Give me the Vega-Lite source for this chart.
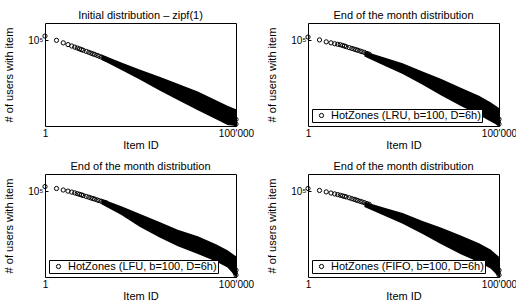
{
  "$schema": "https://vega.github.io/schema/vega-lite/v6.json",
  "background": "white",
  "padding": {"left": 3, "top": 9, "right": 0, "bottom": 0},
  "datasets": {
    "pts": [
      {"p":"p1","item":1,"users":173000},{"p":"p1","item":2,"users":97700},{"p":"p1","item":3,"users":69800},{"p":"p1","item":4,"users":55100},{"p":"p1","item":5,"users":45800},{"p":"p1","item":6,"users":39400},{"p":"p1","item":7,"users":34700},{"p":"p1","item":8,"users":31100},{"p":"p1","item":9,"users":28200},{"p":"p1","item":10,"users":25800},{"p":"p1","item":12,"users":22200},{"p":"p1","item":14,"users":19600},{"p":"p1","item":16,"users":17500},{"p":"p1","item":18,"users":15900},{"p":"p1","item":20,"users":14600},{"p":"p1","item":23,"users":13000},{"p":"p1","item":26,"users":11700},{"p":"p1","item":30,"users":10300},{"p":"p1","item":35,"users":8770},{"p":"p1","item":40,"users":7670},{"p":"p1","item":100000,"users":1.3},{"p":"p1","item":100000,"users":2.4},{"p":"p1","item":90000,"users":1.8},
      {"p":"p2","item":1,"users":152000},{"p":"p2","item":2,"users":103000},{"p":"p2","item":3,"users":79600},{"p":"p2","item":4,"users":70000},{"p":"p2","item":5,"users":61500},{"p":"p2","item":6,"users":57700},{"p":"p2","item":7,"users":54100},{"p":"p2","item":8,"users":49300},{"p":"p2","item":9,"users":45700},{"p":"p2","item":10,"users":41700},{"p":"p2","item":12,"users":36600},{"p":"p2","item":14,"users":33000},{"p":"p2","item":16,"users":30200},{"p":"p2","item":18,"users":27900},{"p":"p2","item":20,"users":25800},{"p":"p2","item":23,"users":23300},{"p":"p2","item":26,"users":21300},{"p":"p2","item":30,"users":19200},{"p":"p2","item":35,"users":16900},{"p":"p2","item":40,"users":15200},{"p":"p2","item":100000,"users":1.3},{"p":"p2","item":100000,"users":2.5},{"p":"p2","item":95000,"users":1.8},
      {"p":"p3","item":1,"users":185000},{"p":"p3","item":2,"users":143000},{"p":"p3","item":3,"users":117000},{"p":"p3","item":4,"users":100500},{"p":"p3","item":5,"users":88300},{"p":"p3","item":6,"users":79600},{"p":"p3","item":7,"users":71800},{"p":"p3","item":8,"users":65600},{"p":"p3","item":9,"users":60700},{"p":"p3","item":10,"users":56100},{"p":"p3","item":12,"users":49300},{"p":"p3","item":14,"users":44500},{"p":"p3","item":16,"users":40100},{"p":"p3","item":18,"users":37200},{"p":"p3","item":20,"users":34400},{"p":"p3","item":23,"users":31000},{"p":"p3","item":26,"users":28300},{"p":"p3","item":30,"users":25500},{"p":"p3","item":35,"users":22700},{"p":"p3","item":40,"users":21000},{"p":"p3","item":100000,"users":1.3},{"p":"p3","item":100000,"users":2.5},{"p":"p3","item":95000,"users":1.8},
      {"p":"p4","item":1,"users":143000},{"p":"p4","item":2,"users":110000},{"p":"p4","item":3,"users":90600},{"p":"p4","item":4,"users":77600},{"p":"p4","item":5,"users":69000},{"p":"p4","item":6,"users":63100},{"p":"p4","item":7,"users":57700},{"p":"p4","item":8,"users":53300},{"p":"p4","item":9,"users":49300},{"p":"p4","item":10,"users":46200},{"p":"p4","item":12,"users":41200},{"p":"p4","item":14,"users":36600},{"p":"p4","item":16,"users":33500},{"p":"p4","item":18,"users":31000},{"p":"p4","item":20,"users":28600},{"p":"p4","item":23,"users":25800},{"p":"p4","item":26,"users":23600},{"p":"p4","item":30,"users":21300},{"p":"p4","item":35,"users":19000},{"p":"p4","item":40,"users":17100},{"p":"p4","item":100000,"users":1.3},{"p":"p4","item":100000,"users":2.5},{"p":"p4","item":95000,"users":1.8}
    ],
    "band": [
      {"p":"p1","item":30,"lo":7180,"hi":14700},{"p":"p1","item":100,"lo":1830,"hi":4990},{"p":"p1","item":300,"lo":513,"hi":1977},{"p":"p1","item":1000,"lo":117,"hi":743},{"p":"p1","item":3000,"lo":32.8,"hi":292},{"p":"p1","item":10000,"lo":8.15,"hi":101},{"p":"p1","item":30000,"lo":2.44,"hi":32.1},{"p":"p1","item":60000,"lo":1.15,"hi":15.1},{"p":"p1","item":100000,"lo":1,"hi":9.5},
      {"p":"p2","item":30,"lo":11000,"hi":22500},{"p":"p2","item":100,"lo":3250,"hi":9730},{"p":"p2","item":300,"lo":1080,"hi":4540},{"p":"p2","item":1000,"lo":255,"hi":1490},{"p":"p2","item":3000,"lo":62.7,"hi":558},{"p":"p2","item":10000,"lo":14.8,"hi":170},{"p":"p2","item":30000,"lo":4.35,"hi":57.3},{"p":"p2","item":60000,"lo":1.83,"hi":24.2},{"p":"p2","item":100000,"lo":1,"hi":11},
      {"p":"p3","item":30,"lo":17400,"hi":35600},{"p":"p3","item":100,"lo":4150,"hi":13100},{"p":"p3","item":300,"lo":832,"hi":4790},{"p":"p3","item":1000,"lo":199,"hi":1580},{"p":"p3","item":3000,"lo":62.8,"hi":573},{"p":"p3","item":10000,"lo":21.9,"hi":240},{"p":"p3","item":30000,"lo":7.96,"hi":79.6},{"p":"p3","item":60000,"lo":3.57,"hi":35.7},{"p":"p3","item":100000,"lo":1,"hi":16},
      {"p":"p4","item":30,"lo":11800,"hi":24100},{"p":"p4","item":100,"lo":3650,"hi":10900},{"p":"p4","item":300,"lo":1280,"hi":5360},{"p":"p4","item":1000,"lo":317,"hi":1850},{"p":"p4","item":3000,"lo":84.5,"hi":753},{"p":"p4","item":10000,"lo":21.5,"hi":259},{"p":"p4","item":30000,"lo":7.13,"hi":94},{"p":"p4","item":60000,"lo":3.08,"hi":40.6},{"p":"p4","item":100000,"lo":1,"hi":15}
    ]
  },
  "columns": 2,
  "spacing": {"row": 48, "column": 72},
  "bounds": "flush",
  "resolve": {"scale": {"color": "independent"}, "legend": {"color": "independent"}},
  "concat": [
    {
      "width": 191, "height": 103,
      "title": "Initial distribution – zipf(1)",
      "layer": [
        {"data": {"name": "band"}, "transform": [{"filter": "datum.p === 'p1'"}],
         "mark": {"type": "area", "color": "black", "opacity": 1, "clip": true},
         "encoding": {
           "x": {"field": "item", "type": "quantitative", "scale": {"type": "log", "domain": [1, 100000]}, "axis": {"values": [1, 100000], "labelExpr": "datum.value === 1 ? '1' : \"100'000\"", "title": "Item ID", "labelFlush": false}},
           "y": {"field": "hi", "type": "quantitative", "scale": {"type": "log", "domain": [1, 631000]}, "axis": {"values": [100000], "labelExpr": "'10⁵'", "title": "# of users with item"}},
           "y2": {"field": "lo"}
         }},
        {"data": {"name": "pts"}, "transform": [{"filter": "datum.p === 'p1'"}],
         "mark": {"type": "point", "shape": "circle", "filled": false, "size": 18, "strokeWidth": 1, "color": "black", "opacity": 1},
         "encoding": {
           "x": {"field": "item", "type": "quantitative"},
           "y": {"field": "users", "type": "quantitative"}
         }}
      ]
    },
    {
      "width": 191, "height": 103,
      "title": "End of the month distribution",
      "layer": [
        {"data": {"name": "band"}, "transform": [{"filter": "datum.p === 'p2'"}],
         "mark": {"type": "area", "color": "black", "opacity": 1, "clip": true},
         "encoding": {
           "x": {"field": "item", "type": "quantitative", "scale": {"type": "log", "domain": [1, 100000]}, "axis": {"values": [1, 100000], "labelExpr": "datum.value === 1 ? '1' : \"100'000\"", "title": "Item ID", "labelFlush": false}},
           "y": {"field": "hi", "type": "quantitative", "scale": {"type": "log", "domain": [1, 631000]}, "axis": {"values": [100000], "labelExpr": "'10⁵'", "title": "# of users with item"}},
           "y2": {"field": "lo"}
         }},
        {"data": {"name": "pts"}, "transform": [{"filter": "datum.p === 'p2'"}],
         "mark": {"type": "point", "shape": "circle", "filled": false, "size": 18, "strokeWidth": 1, "opacity": 1},
         "encoding": {
           "x": {"field": "item", "type": "quantitative"},
           "y": {"field": "users", "type": "quantitative"},
           "color": {"datum": "HotZones (LRU, b=100, D=6h)", "type": "nominal", "scale": {"range": ["black"]}}
         }}
      ]
    },
    {
      "width": 191, "height": 103,
      "title": "End of the month distribution",
      "layer": [
        {"data": {"name": "band"}, "transform": [{"filter": "datum.p === 'p3'"}],
         "mark": {"type": "area", "color": "black", "opacity": 1, "clip": true},
         "encoding": {
           "x": {"field": "item", "type": "quantitative", "scale": {"type": "log", "domain": [1, 100000]}, "axis": {"values": [1, 100000], "labelExpr": "datum.value === 1 ? '1' : \"100'000\"", "title": "Item ID", "labelFlush": false}},
           "y": {"field": "hi", "type": "quantitative", "scale": {"type": "log", "domain": [1, 631000]}, "axis": {"values": [100000], "labelExpr": "'10⁵'", "title": "# of users with item"}},
           "y2": {"field": "lo"}
         }},
        {"data": {"name": "pts"}, "transform": [{"filter": "datum.p === 'p3'"}],
         "mark": {"type": "point", "shape": "circle", "filled": false, "size": 18, "strokeWidth": 1, "opacity": 1},
         "encoding": {
           "x": {"field": "item", "type": "quantitative"},
           "y": {"field": "users", "type": "quantitative"},
           "color": {"datum": "HotZones (LFU, b=100, D=6h)", "type": "nominal", "scale": {"range": ["black"]}}
         }}
      ]
    },
    {
      "width": 191, "height": 103,
      "title": "End of the month distribution",
      "layer": [
        {"data": {"name": "band"}, "transform": [{"filter": "datum.p === 'p4'"}],
         "mark": {"type": "area", "color": "black", "opacity": 1, "clip": true},
         "encoding": {
           "x": {"field": "item", "type": "quantitative", "scale": {"type": "log", "domain": [1, 100000]}, "axis": {"values": [1, 100000], "labelExpr": "datum.value === 1 ? '1' : \"100'000\"", "title": "Item ID", "labelFlush": false}},
           "y": {"field": "hi", "type": "quantitative", "scale": {"type": "log", "domain": [1, 631000]}, "axis": {"values": [100000], "labelExpr": "'10⁵'", "title": "# of users with item"}},
           "y2": {"field": "lo"}
         }},
        {"data": {"name": "pts"}, "transform": [{"filter": "datum.p === 'p4'"}],
         "mark": {"type": "point", "shape": "circle", "filled": false, "size": 18, "strokeWidth": 1, "opacity": 1},
         "encoding": {
           "x": {"field": "item", "type": "quantitative"},
           "y": {"field": "users", "type": "quantitative"},
           "color": {"datum": "HotZones (FIFO, b=100, D=6h)", "type": "nominal", "scale": {"range": ["black"]}}
         }}
      ]
    }
  ],
  "config": {
    "font": "Liberation Sans",
    "view": {"stroke": "black", "strokeWidth": 1},
    "axis": {"grid": false, "domain": false, "ticks": false, "labelFont": "Liberation Sans", "labelFontSize": 10, "labelColor": "black", "labelPadding": 2, "titleFont": "Liberation Sans", "titleFontSize": 11, "titleFontWeight": "normal", "titleColor": "black"},
    "axisX": {"titlePadding": 1},
    "axisY": {"titlePadding": 13, "ticks": true, "tickSize": -3, "tickColor": "black", "tickWidth": 1, "labelPadding": 5},
    "title": {"font": "Liberation Sans", "fontSize": 11, "fontWeight": "normal", "color": "black", "offset": 2},
    "legend": {"title": null, "orient": "bottom-left", "offset": 4, "strokeColor": "black", "fillColor": "white", "padding": 1, "labelFont": "Liberation Sans", "labelFontSize": 11, "labelColor": "black", "symbolType": "circle", "symbolSize": 18, "symbolStrokeColor": "black", "symbolStrokeWidth": 1, "symbolFillColor": "transparent", "symbolOffset": 3, "labelLimit": 300}
  }
}
